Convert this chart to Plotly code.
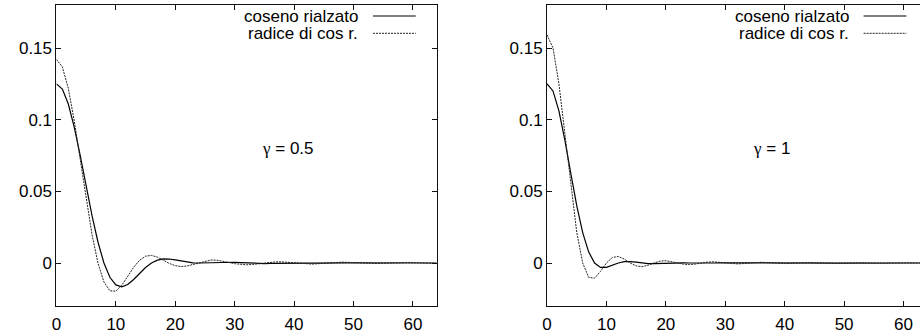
import plotly.graph_objects as go

# sample index (time in samples, 8 samples per symbol)
t = list(range(65))

# raised cosine vs root raised cosine impulse responses, roll-off 0.5
rc_05 = [0.125, 0.12137, 0.1109, 0.09484, 0.07503, 0.05362, 0.03281, 0.01449, 0.0,
         -0.00994, -0.01531, -0.01668, -0.01501, -0.01147, -0.0072, -0.00317, 0.0,
         0.002, 0.00284, 0.00277, 0.00214, 0.00132, 0.0006, 0.00014, 0.0,
         0.00011, 0.00035, 0.00058, 0.00072, 0.0007, 0.00053, 0.00028, 0.0,
         -0.00023, -0.00036, -0.00039, -0.00033, -0.00022, -0.00011, -0.00003, 0.0,
         -0.00002, -0.00008, -0.00014, -0.00018, -0.00018, -0.00014, -0.00008, 0.0,
         0.00007, 0.00011, 0.00012, 0.00011, 0.00007, 0.00004, 0.00001, 0.0,
         0.00001, 0.00003, 0.00005, 0.00007, 0.00007, 0.00006, 0.00003, 0.0]
rrc_05 = [0.14208, 0.13682, 0.12181, 0.09925, 0.07233, 0.04465, 0.01961, -0.00019, -0.01326,
          -0.01942, -0.01961, -0.01556, -0.00938, -0.00305, 0.00193, 0.00475, 0.00531,
          0.00409, 0.00193, -0.00029, -0.00188, -0.00246, -0.00206, -0.00096, 0.00038,
          0.00149, 0.00206, 0.00197, 0.00134, 0.00042, -0.00048, -0.00109, -0.00126,
          -0.00102, -0.00048, 0.00014, 0.00063, 0.00084, 0.00074, 0.00039, -0.00008,
          -0.0005, -0.00074, -0.00074, -0.00051, -0.00016, 0.00021, 0.00047, 0.00056,
          0.00045, 0.00021, -0.00007, -0.00031, -0.00042, -0.00038, -0.00021, 0.00003,
          0.00025, 0.00038, 0.00038, 0.00027, 0.00008, -0.00012, -0.00026, -0.00031]

# roll-off 1
rc_1 = [0.125, 0.12004, 0.1061, 0.08574, 0.0625, 0.04001, 0.02122, 0.0078, 0.0,
        -0.00308, -0.00303, -0.00156, 0.0, 0.00091, 0.00101, 0.00057, 0.0,
        -0.00039, -0.00046, -0.00028, 0.0, 0.0002, 0.00025, 0.00015, 0.0,
        -0.00012, -0.00015, -0.00009, 0.0, 0.00008, 0.0001, 0.00006, 0.0,
        -0.00005, -0.00007, -0.00004, 0.0, 0.00004, 0.00005, 0.00003, 0.0,
        -0.00003, -0.00003, -0.00002, 0.0, 0.00002, 0.00003, 0.00002, 0.0,
        -0.00002, -0.00002, -0.00001, 0.0, 0.00001, 0.00002, 0.00001, 0.0,
        -0.00001, -0.00001, -0.00001, 0.0, 0.00001, 0.00001, 0.00001, 0.0]
rrc_1 = [0.15915, 0.15005, 0.125, 0.09003, 0.05305, 0.02144, 0.0, -0.01, -0.01061,
         -0.00585, 0.0, 0.00385, 0.00455, 0.00273, 0.0, -0.00204, -0.00253,
         -0.00158, 0.0, 0.00126, 0.00161, 0.00103, 0.0, -0.00086, -0.00111,
         -0.00073, 0.0, 0.00062, 0.00082, 0.00054, 0.0, -0.00047, -0.00062,
         -0.00042, 0.0, 0.00037, 0.00049, 0.00033, 0.0, -0.0003, -0.0004,
         -0.00027, 0.0, 0.00024, 0.00033, 0.00022, 0.0, -0.0002, -0.00028,
         -0.00019, 0.0, 0.00017, 0.00024, 0.00016, 0.0, -0.00015, -0.0002,
         -0.00014, 0.0, 0.00013, 0.00018, 0.00012, 0.0, -0.00011, -0.00016]

series_names = ["coseno rialzato", "radice di cos r."]
GAMMA = "<span style='font-family:Liberation Serif, DejaVu Serif, serif'>\u03b3</span>"
panel_labels = [GAMMA + " = 0.5", GAMMA + " = 1"]
x_ticks = [0, 10, 20, 30, 40, 50, 60]
y_ticks = [0, 0.05, 0.1, 0.15]
y_tick_text = ["0", "0.05", "0.1", "0.15"]

W, H = 920, 334
FONT = "Liberation Sans, Arial, Helvetica, sans-serif"
FS = 17
INK = "#111111"

solid = dict(color="black", width=1.2)
dotted = dict(color="#222222", width=1, dash="2px,1px")

fig = go.Figure()
fig.add_trace(go.Scatter(x=t, y=rc_05, mode="lines", line=solid, xaxis="x", yaxis="y",
                         showlegend=False, hoverinfo="skip"))
fig.add_trace(go.Scatter(x=t, y=rrc_05, mode="lines", line=dotted, xaxis="x", yaxis="y",
                         showlegend=False, hoverinfo="skip"))
fig.add_trace(go.Scatter(x=t, y=rc_1, mode="lines", line=solid, xaxis="x2", yaxis="y2",
                         showlegend=False, hoverinfo="skip"))
fig.add_trace(go.Scatter(x=t, y=rrc_1, mode="lines", line=dotted, xaxis="x2", yaxis="y2",
                         showlegend=False, hoverinfo="skip"))

ydom = [28 / H, 329 / H]
left_dom = [51.7 / W, 434 / W]
right_dom = [545 / W, 1.0]
px_per_unit = (434 - 51.7) / 64.0
right_max = (W - 545) / px_per_unit

common_x = dict(showgrid=False, zeroline=False, showline=True, linecolor=INK, linewidth=1,
                ticks="inside", ticklen=5, tickcolor=INK, tickwidth=1,
                tickvals=x_ticks, ticktext=[str(v) for v in x_ticks], ticklabelstandoff=3,
                tickfont=dict(family=FONT, size=FS, color="black"))
common_y = dict(showgrid=False, zeroline=False, showline=True, linecolor=INK, linewidth=1,
                ticks="inside", ticklen=5, tickcolor=INK, tickwidth=1,
                tickvals=y_ticks, ticktext=y_tick_text, range=[-0.03, 0.18],
                tickfont=dict(family=FONT, size=FS, color="black"))

fig.update_layout(
    width=W, height=H,
    margin=dict(l=0, r=0, t=0, b=0),
    paper_bgcolor="white", plot_bgcolor="white",
    showlegend=False,
    xaxis=dict(common_x, domain=left_dom, range=[0, 64], anchor="y", mirror="ticks"),
    yaxis=dict(common_y, domain=ydom, anchor="x", mirror="ticks"),
    xaxis2=dict(common_x, domain=right_dom, range=[0, right_max], anchor="y2", mirror="ticks"),
    yaxis2=dict(common_y, domain=ydom, anchor="x2", mirror=False),
)

# key in the top-right corner of each panel: label followed by line sample
shapes = []
annotations = []
for offset in (0.0, 493.3):
    for row, (name, style) in enumerate(zip(series_names, [solid, dotted])):
        ypix = 16 + row * 17.3
        yp = 1 - ypix / H
        shapes.append(dict(type="line", xref="paper", yref="paper",
                           x0=(370 + offset) / W, x1=(413 + offset) / W, y0=yp, y1=yp,
                           line=dict(color=style["color"], width=style["width"],
                                     dash=style.get("dash", "solid"))))
        annotations.append(dict(xref="paper", yref="paper", x=(357 + offset) / W, y=yp,
                                xanchor="right", yanchor="middle", showarrow=False,
                                text=name, font=dict(family=FONT, size=FS, color="black")))

annotations.append(dict(xref="x", yref="y", x=39, y=0.08, text=panel_labels[0],
                        showarrow=False, font=dict(family=FONT, size=FS, color="black")))
annotations.append(dict(xref="x2", yref="y2", x=37.8, y=0.08, text=panel_labels[1],
                        showarrow=False, font=dict(family=FONT, size=FS, color="black")))

fig.update_layout(shapes=shapes, annotations=annotations)

fig.write_html("out.html")
